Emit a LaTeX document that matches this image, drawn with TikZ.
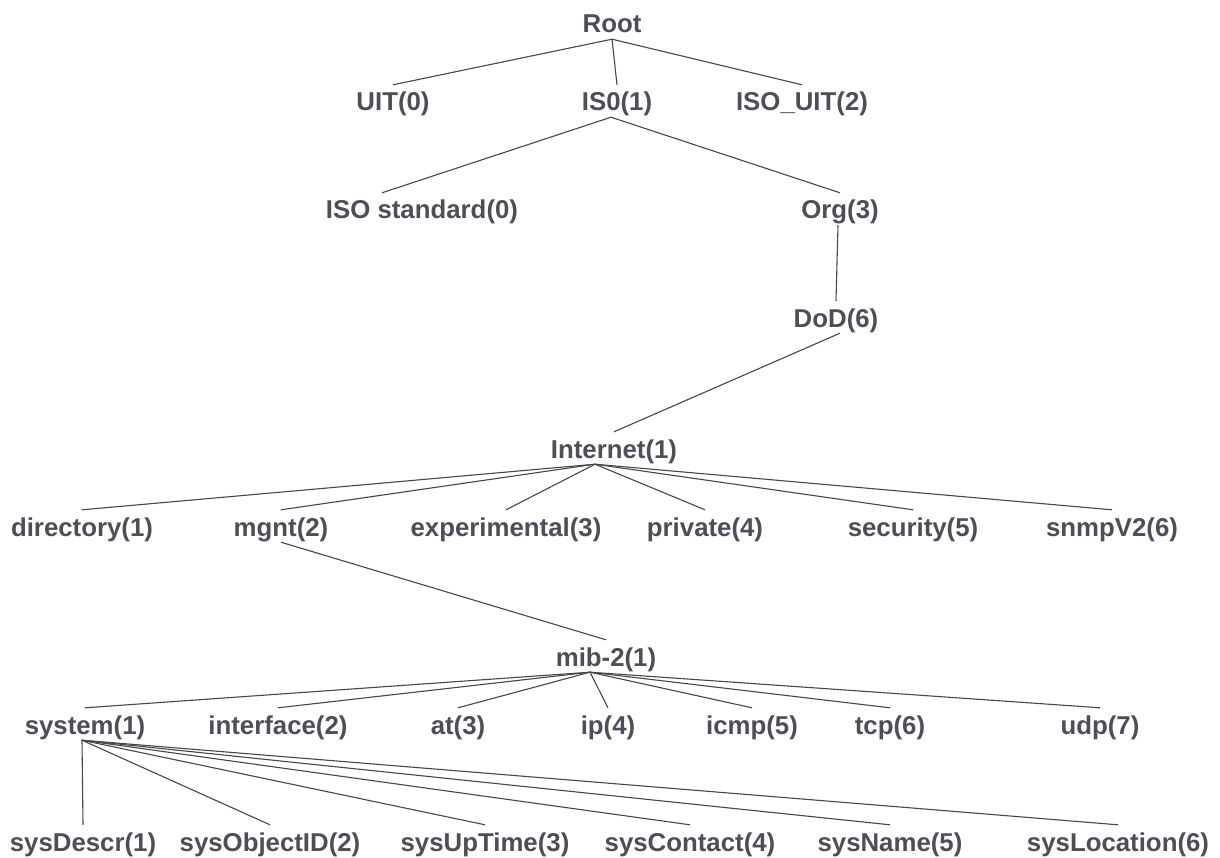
\documentclass[tikz,border=0pt]{standalone}
\usepackage{fontspec}
\setmainfont{Liberation Sans}
\definecolor{txtgray}{RGB}{78,78,88}
\definecolor{linegray}{RGB}{70,70,75}
\tikzset{
  lbl/.style={inner sep=0pt, text height=26pt, text depth=6pt, anchor=base,
    font=\bfseries\fontsize{25.8}{30}\selectfont, text=txtgray},
  edge/.style={draw=linegray, line width=1.1pt}
}
\begin{document}
\begin{tikzpicture}[x=1pt,y=-1pt]
\useasboundingbox[fill=white] (0,0) rectangle (1220,858);
% level 0-3
\node[lbl] (root)   at (612,33)  {Root};
\node[lbl] (uit)    at (393,111) {UIT(0)};
\node[lbl] (iso)    at (617,111) {IS0(1)};
\node[lbl] (isouit) at (802,111) {ISO\_UIT(2)};
\node[lbl] (isostd) at (422,219) {ISO standard(0)};
\node[lbl] (org)    at (840,219) {Org(3)};
\node[lbl] (dod)    at (836,327) {DoD(6)};
\node[lbl] (inet)   at (614,458) {Internet(1)};
% internet children
\node[lbl] (dir)  at (82,536)   {directory(1)};
\node[lbl] (mgnt) at (281,536)  {mgnt(2)};
\node[lbl] (exp)  at (506,536)  {experimental(3)};
\node[lbl] (priv) at (705,536)  {private(4)};
\node[lbl] (sec)  at (913,536)  {security(5)};
\node[lbl] (snmp) at (1112,536) {snmpV2(6)};
% mib-2
\node[lbl] (mib)  at (606,666)  {mib-2(1)};
\node[lbl] (sys)  at (85,734)   {system(1)};
\node[lbl] (intf) at (278,734)  {interface(2)};
\node[lbl] (at)   at (458,734)  {at(3)};
\node[lbl] (ip)   at (608,734)  {ip(4)};
\node[lbl] (icmp) at (752,734)  {icmp(5)};
\node[lbl] (tcp)  at (890,734)  {tcp(6)};
\node[lbl] (udp)  at (1100,734) {udp(7)};
% system children
\node[lbl] (descr)   at (83,851)   {sysDescr(1)};
\node[lbl] (objid)   at (270,851)  {sysObjectID(2)};
\node[lbl] (uptime)  at (485,851)  {sysUpTime(3)};
\node[lbl] (contact) at (690,851)  {sysContact(4)};
\node[lbl] (sname)   at (890,851)  {sysName(5)};
\node[lbl] (sloc)    at (1118,851) {sysLocation(6)};
% hubs
\coordinate (rootH) at (root.south);
\coordinate (isoH)  at ([xshift=-6pt]iso.south);
\coordinate (orgH)  at ([xshift=-2pt]org.south);
\coordinate (dodH)  at ([xshift=4pt]dod.south);
\coordinate (inetH) at ([xshift=-19pt]inet.south);
\coordinate (mgntH) at (mgnt.south);
\coordinate (mibH)  at ([xshift=-16pt]mib.south);
\coordinate (sysH)  at ([xshift=-3pt]sys.south);
% edges
\draw[edge] (rootH) -- (uit.north);
\draw[edge] (rootH) -- (iso.north);
\draw[edge] (rootH) -- (isouit.north);
\draw[edge] (isoH) -- ([xshift=-40pt]isostd.north);
\draw[edge] (isoH) -- (org.north);
\draw[edge] (orgH) -- (dod.north);
\draw[edge] (dodH) -- (inet.north);
\foreach \c in {dir,mgnt,exp,priv,sec,snmp} \draw[edge] (inetH) -- (\c.north);
\draw[edge] (mgntH) -- (mib.north);
\foreach \c in {sys,intf,at,ip,icmp,tcp,udp} \draw[edge] (mibH) -- (\c.north);
\foreach \c in {descr,objid,uptime,contact,sname,sloc} \draw[edge] (sysH) -- (\c.north);
\end{tikzpicture}
\end{document}
